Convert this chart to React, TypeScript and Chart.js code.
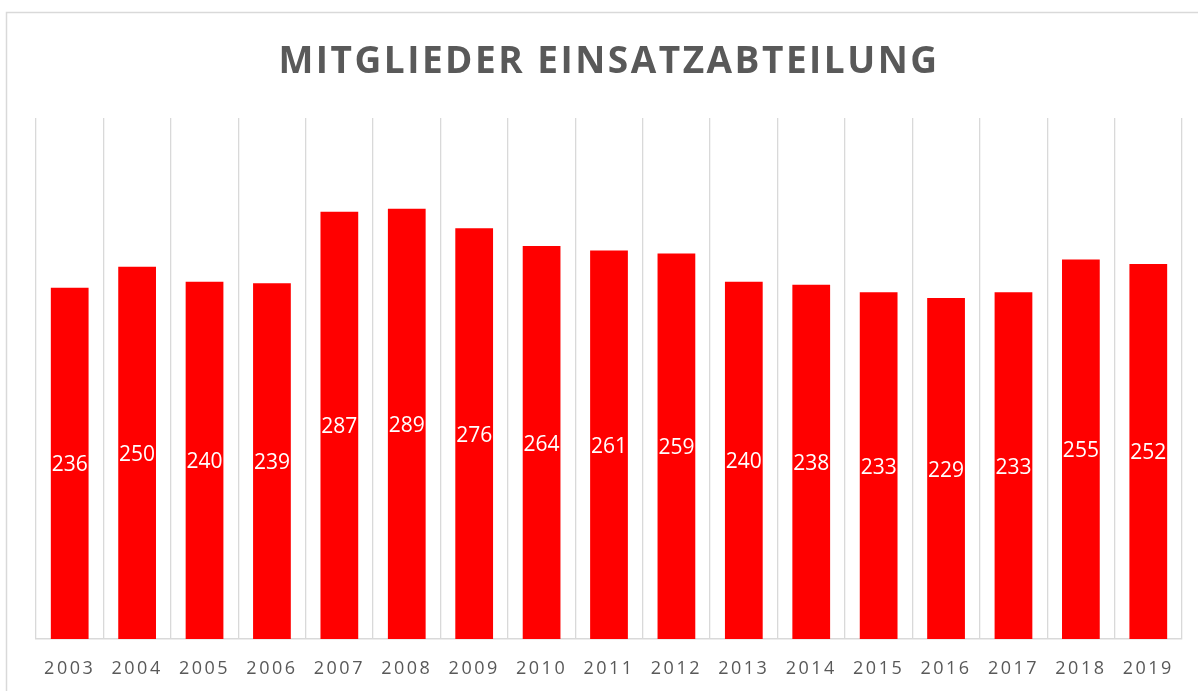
import React, { useEffect, useRef } from "react";
import { Chart, registerables } from "chart.js";

Chart.register(...registerables);

const TITLE = "MITGLIEDER EINSATZABTEILUNG";
const YEARS = ["2003", "2004", "2005", "2006", "2007", "2008", "2009", "2010", "2011", "2012", "2013", "2014", "2015", "2016", "2017", "2018", "2019"];
const MEMBERS = [236, 250, 240, 239, 287, 289, 276, 264, 261, 259, 240, 238, 233, 229, 233, 255, 252];

const W = 1198;
const H = 691;

const framePlugin = {
  id: "frame",
  beforeDraw(chart: any) {
    const ctx = chart.ctx;
    ctx.save();
    ctx.fillStyle = "#ffffff";
    ctx.fillRect(0, 0, W, H);
    ctx.strokeStyle = "#d9d9d9";
    ctx.lineWidth = 1.5;
    ctx.strokeRect(6.5, 12.5, W + 50, H + 50);
    ctx.restore();
    (ctx as any).letterSpacing = "2.5px";
  },
  beforeDatasetsDraw(chart: any) {
    (chart.ctx as any).letterSpacing = "0px";
  },
  afterDatasetsDraw(chart: any) {
    const ctx = chart.ctx;
    const meta = chart.getDatasetMeta(0);
    ctx.save();
    (ctx as any).letterSpacing = "0px";
    ctx.fillStyle = "#ffffff";
    ctx.font = "21px 'Open Sans', sans-serif";
    ctx.textAlign = "center";
    ctx.textBaseline = "alphabetic";
    meta.data.forEach((bar: any, i: number) => {
      ctx.fillText(String(MEMBERS[i]), bar.x, (bar.y + bar.base) / 2 + 8);
    });
    ctx.restore();
  },
  afterDraw(chart: any) {
    const ctx = chart.ctx;
    ctx.save();
    (ctx as any).letterSpacing = "2.5px";
    ctx.fillStyle = "#595959";
    ctx.font = "bold 37px 'Open Sans', sans-serif";
    ctx.textAlign = "center";
    ctx.textBaseline = "alphabetic";
    ctx.fillText(TITLE, 609, 72.5);
    ctx.restore();
    (ctx as any).letterSpacing = "0px";
  },
};

export default function App() {
  const ref = useRef<HTMLCanvasElement>(null);
  useEffect(() => {
    if (!ref.current) return;
    const chart = new Chart(ref.current, {
      type: "bar",
      data: {
        labels: YEARS,
        datasets: [
          {
            data: MEMBERS,
            backgroundColor: "#ff0000",
            borderWidth: 0,
            barPercentage: 0.56,
            categoryPercentage: 1,
          },
        ],
      },
      options: {
        responsive: false,
        animation: false,
        events: [],
        layout: { padding: { left: 36, right: 16, top: 118, bottom: 0 } },
        plugins: { legend: { display: false }, tooltip: { enabled: false }, title: { display: false } },
        scales: {
          x: {
            offset: true,
            grid: { display: true, offset: true, color: "#d9d9d9", lineWidth: 1.3, drawTicks: false },
            border: { display: true, color: "#d9d9d9", width: 1.5 },
            ticks: {
              color: "#595959",
              font: { family: "'Open Sans', sans-serif", size: 18 },
              padding: 19,
              maxRotation: 0,
              autoSkip: false,
            },
            afterFit(scale: any) {
              scale.height = 52;
            },
          },
          y: {
            display: false,
            min: 0,
            max: 350,
          },
        },
      },
      plugins: [framePlugin],
    });
    return () => chart.destroy();
  }, []);
  return (
    <div style={{ position: "fixed", left: 0, top: 0, width: W, height: H }}>
      <canvas ref={ref} width={W} height={H} style={{ width: W, height: H, display: "block" }} />
    </div>
  );
}
